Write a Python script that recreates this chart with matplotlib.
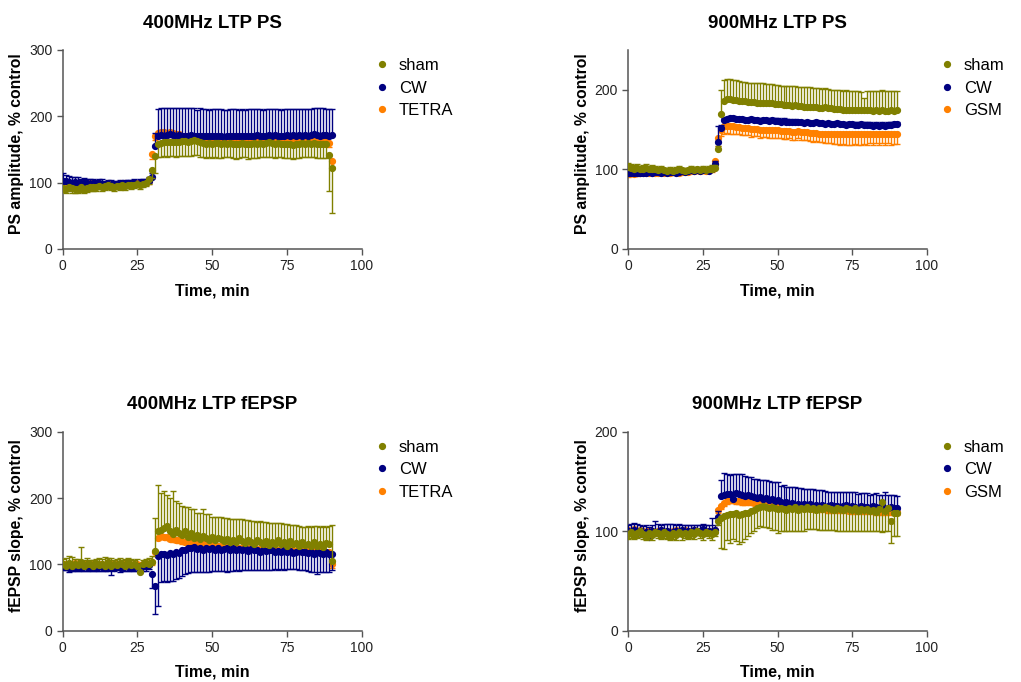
import matplotlib
matplotlib.use('Agg')
import matplotlib.pyplot as plt
from matplotlib.lines import Line2D
import numpy as np

plt.rcParams['font.family'] = ['Liberation Sans', 'DejaVu Sans']

# time axis, minutes
time = list(range(91))

SHAM = '#808000'
CW = '#000080'
EXP = '#ff8000'

# ---- 400MHz LTP PS ----
ps400_sham = [92, 91, 93, 92, 90, 91, 93, 91, 92, 93,
              94, 93, 95, 94, 95, 96, 95, 94, 95, 95,
              96, 95, 97, 96, 97, 98, 97, 98, 100, 105,
              119, 140, 158, 160, 161, 161, 162, 162, 161, 162,
              163, 163, 162, 163, 164, 163, 161, 160, 159, 160,
              159, 160, 160, 159, 160, 159, 160, 159, 158, 159,
              160, 159, 158, 159, 160, 159, 160, 159, 160, 161,
              160, 159, 160, 159, 158, 159, 158, 157, 158, 159,
              160, 159, 160, 159, 160, 159, 158, 159, 158, 141,
              122]
ps400_sham_err = [6, 7, 6, 7, 6, 6, 7, 6, 6, 6,
                  6, 6, 5, 6, 6, 5, 6, 6, 5, 6,
                  5, 6, 5, 6, 5, 5, 6, 5, 5, 7,
                  12, 26, 20, 21, 21, 22, 22, 22, 22, 22,
                  23, 23, 22, 23, 23, 22, 22, 22, 22, 22,
                  22, 22, 23, 22, 22, 21, 22, 22, 22, 22,
                  22, 21, 22, 22, 23, 22, 22, 21, 22, 22,
                  22, 22, 22, 21, 21, 22, 21, 21, 21, 22,
                  22, 21, 22, 21, 22, 22, 21, 22, 21, 53,
                  67]
ps400_cw = [103, 102, 101, 100, 101, 100, 99, 100, 99, 98,
            99, 98, 99, 98, 97, 98, 97, 96, 97, 98,
            97, 98, 99, 98, 99, 98, 99, 100, 101, 102,
            108, 155, 170, 172, 171, 172, 173, 172, 171, 172,
            171, 170, 171, 172, 171, 170, 171, 170, 171, 170,
            171, 170, 171, 170, 169, 170, 171, 170, 171, 170,
            171, 170, 171, 170, 171, 172, 171, 170, 171, 172,
            171, 172, 171, 170, 171, 172, 171, 172, 171, 172,
            171, 172, 171, 172, 173, 172, 171, 172, 172, 171,
            172]
ps400_cw_err = [11, 10, 9, 8, 8, 8, 7, 7, 7, 7,
                7, 6, 6, 7, 6, 6, 7, 6, 6, 6,
                6, 6, 5, 6, 6, 5, 6, 5, 5, 6,
                6, 20, 41, 41, 41, 41, 40, 40, 41, 40,
                41, 42, 41, 40, 41, 40, 41, 41, 40, 40,
                40, 41, 40, 41, 41, 40, 40, 41, 40, 40,
                40, 40, 40, 41, 40, 39, 40, 40, 40, 39,
                40, 39, 40, 40, 40, 39, 40, 39, 40, 39,
                40, 39, 40, 39, 40, 41, 42, 40, 39, 40,
                39]
ps400_tetra = [99, 100, 98, 99, 100, 99, 98, 99, 100, 99,
               98, 99, 98, 97, 98, 99, 98, 97, 98, 99,
               98, 99, 98, 99, 100, 99, 98, 100, 101, 103,
               143, 171, 175, 176, 176, 175, 176, 175, 174, 173,
               171, 170, 170, 169, 169, 168, 168, 167, 168, 167,
               167, 166, 167, 166, 166, 165, 166, 165, 166, 165,
               165, 166, 165, 164, 165, 166, 165, 164, 165, 166,
               165, 164, 165, 166, 165, 164, 163, 164, 165, 164,
               165, 164, 165, 164, 163, 164, 165, 164, 163, 160,
               132]
ps400_tetra_err = [4, 4, 5, 4, 4, 5, 4, 4, 5, 4,
                   4, 5, 4, 4, 5, 4, 4, 4, 5, 4,
                   4, 4, 5, 4, 4, 4, 5, 4, 4, 5,
                   8, 6, 6, 6, 6, 6, 6, 6, 6, 6,
                   5, 6, 5, 6, 5, 6, 5, 6, 5, 6,
                   5, 6, 5, 6, 5, 6, 5, 6, 5, 6,
                   5, 6, 5, 6, 5, 6, 5, 6, 5, 6,
                   5, 6, 5, 6, 5, 6, 5, 6, 5, 6,
                   5, 6, 5, 6, 5, 6, 5, 6, 5, 6,
                   8]

# ---- 900MHz LTP PS ----
ps900_sham = [103, 102, 101, 102, 100, 101, 102, 100, 101, 100,
              99, 100, 99, 98, 99, 98, 99, 100, 99, 98,
              99, 100, 99, 100, 99, 100, 99, 100, 101, 102,
              126, 170, 186, 188, 188, 187, 187, 186, 186, 186,
              185, 185, 185, 184, 184, 184, 183, 184, 183, 182,
              182, 182, 181, 181, 181, 180, 181, 180, 180, 179,
              179, 178, 178, 178, 177, 177, 178, 177, 177, 176,
              176, 176, 175, 175, 175, 174, 175, 174, 174, 175,
              174, 174, 173, 174, 173, 174, 173, 173, 174, 173,
              174]
ps900_sham_err = [5, 5, 4, 5, 4, 4, 5, 4, 4, 4,
                  4, 4, 3, 4, 4, 3, 4, 4, 3, 4,
                  3, 4, 4, 3, 4, 4, 3, 4, 4, 3,
                  4, 30, 26, 26, 25, 25, 25, 25, 24, 24,
                  24, 24, 24, 24, 24, 24, 24, 23, 24, 24,
                  24, 23, 24, 24, 24, 25, 24, 24, 24, 24,
                  24, 25, 24, 24, 25, 24, 24, 24, 23, 24,
                  24, 24, 24, 25, 24, 24, 24, 25, 23, 15,
                  24, 25, 25, 24, 25, 26, 25, 26, 25, 25,
                  25]
ps900_cw = [96, 95, 96, 95, 96, 95, 96, 97, 96, 97,
            97, 96, 97, 96, 97, 97, 96, 97, 98, 97,
            98, 99, 98, 99, 98, 99, 99, 98, 100, 107,
            135, 152, 162, 163, 164, 164, 163, 163, 163, 162,
            162, 163, 162, 162, 161, 162, 162, 161, 162, 161,
            161, 160, 161, 160, 160, 159, 160, 159, 159, 158,
            159, 158, 158, 159, 158, 158, 157, 158, 157, 157,
            158, 157, 157, 156, 157, 157, 156, 156, 157, 156,
            156, 156, 155, 156, 155, 156, 155, 156, 156, 157,
            157]
ps900_cw_err = [2, 3, 2, 3, 2, 2, 3, 2, 3, 2,
                2, 3, 2, 2, 3, 2, 2, 3, 2, 2,
                3, 2, 2, 3, 2, 2, 3, 2, 2, 3,
                20, 4, 3, 3, 3, 3, 3, 3, 3, 3,
                3, 3, 3, 3, 3, 3, 3, 3, 3, 3,
                3, 3, 3, 3, 3, 3, 3, 3, 3, 3,
                3, 3, 3, 3, 3, 3, 3, 3, 3, 3,
                3, 3, 3, 3, 3, 3, 3, 3, 3, 3,
                3, 3, 3, 3, 3, 3, 3, 3, 3, 3,
                3]
ps900_gsm = [94, 95, 94, 95, 96, 95, 96, 96, 95, 96,
             96, 97, 96, 97, 96, 97, 97, 96, 97, 98,
             97, 98, 98, 99, 98, 99, 98, 99, 100, 110,
             140, 150, 154, 155, 154, 154, 153, 153, 152, 152,
             152, 151, 151, 151, 150, 150, 150, 149, 149, 149,
             149, 148, 148, 148, 148, 147, 147, 148, 147, 147,
             147, 146, 146, 146, 145, 145, 145, 145, 145, 144,
             144, 144, 144, 144, 144, 144, 144, 144, 144, 144,
             144, 145, 144, 145, 144, 145, 144, 145, 144, 145,
             145]
ps900_gsm_err = [3, 3, 2, 3, 3, 2, 3, 3, 2, 3,
                 2, 3, 3, 2, 3, 3, 2, 3, 3, 2,
                 3, 2, 3, 3, 2, 3, 3, 2, 3, 3,
                 10, 8, 9, 9, 9, 9, 9, 9, 9, 9,
                 9, 10, 9, 9, 10, 9, 9, 10, 9, 9,
                 10, 9, 10, 10, 9, 10, 10, 9, 10, 10,
                 10, 10, 11, 10, 11, 11, 12, 12, 12, 12,
                 12, 13, 12, 13, 13, 13, 12, 13, 13, 12,
                 13, 12, 13, 12, 13, 12, 13, 12, 13, 13,
                 13]

# ---- 400MHz LTP fEPSP ----
fe400_sham = [100, 98, 102, 97, 101, 99, 103, 98, 100, 101,
              97, 102, 99, 100, 98, 103, 97, 101, 99, 102,
              100, 98, 103, 99, 101, 97, 89, 100, 102, 101,
              104, 120, 150, 152, 155, 158, 150, 146, 152, 148,
              145, 150, 142, 147, 140, 145, 138, 143, 140, 137,
              142, 136, 140, 138, 135, 139, 134, 137, 133, 140,
              135, 132, 137, 134, 130, 136, 133, 131, 135, 129,
              134, 131, 137, 130, 133, 128, 135, 130, 132, 128,
              133, 129, 131, 127, 134, 128, 130, 126, 132, 130,
              105]
fe400_sham_err = [8, 12, 10, 14, 7, 9, 23, 8, 10, 6,
                  9, 6, 11, 8, 13, 7, 12, 5, 9, 8,
                  7, 10, 6, 9, 5, 11, 8, 7, 6, 9,
                  8, 50, 70, 55, 55, 47, 50, 64, 43, 45,
                  43, 37, 45, 37, 44, 33, 40, 40, 36, 39,
                  30, 36, 32, 34, 35, 31, 35, 32, 35, 28,
                  33, 35, 30, 32, 35, 28, 32, 33, 29, 34,
                  29, 31, 26, 32, 28, 33, 25, 29, 27, 30,
                  24, 28, 27, 30, 24, 30, 27, 32, 25, 28,
                  55]
fe400_cw = [97, 96, 95, 96, 94, 96, 95, 97, 96, 95,
            96, 95, 97, 96, 95, 94, 96, 95, 97, 96,
            95, 97, 96, 95, 96, 97, 96, 98, 97, 99,
            85, 68, 113, 115, 116, 114, 117, 116, 118, 117,
            121, 122, 124, 125, 126, 123, 125, 122, 124, 123,
            125, 122, 124, 121, 123, 125, 122, 124, 121, 123,
            122, 124, 120, 123, 121, 122, 119, 122, 120, 121,
            122, 119, 120, 118, 121, 119, 120, 117, 119, 120,
            118, 119, 117, 118, 116, 118, 117, 116, 118, 115,
            115]
fe400_cw_err = [6, 5, 7, 6, 4, 6, 5, 7, 6, 5,
                6, 5, 7, 6, 5, 4, 12, 5, 6, 7,
                5, 7, 6, 5, 6, 7, 6, 8, 7, 6,
                20, 43, 75, 42, 41, 40, 42, 41, 40, 38,
                38, 36, 37, 37, 38, 34, 36, 33, 35, 34,
                35, 32, 34, 31, 33, 36, 32, 34, 30, 33,
                30, 32, 28, 31, 29, 30, 27, 30, 28, 29,
                30, 26, 28, 25, 29, 26, 27, 24, 26, 28,
                26, 28, 27, 29, 28, 32, 29, 28, 30, 27,
                23]
fe400_tetra = [99, 101, 100, 98, 102, 100, 99, 101, 100, 98,
               100, 99, 101, 100, 98, 101, 100, 99, 101, 100,
               99, 101, 100, 98, 100, 101, 99, 100, 102, 101,
               103, 118, 140, 143, 142, 141, 139, 138, 137, 136,
               135, 134, 134, 133, 132, 132, 131, 131, 130, 130,
               129, 129, 128, 128, 127, 127, 126, 126, 126, 125,
               125, 125, 124, 124, 124, 123, 123, 123, 123, 122,
               122, 122, 122, 121, 121, 121, 121, 121, 120, 120,
               120, 120, 120, 120, 120, 119, 119, 119, 119, 119,
               100]
fe400_tetra_err = [3, 4, 3, 4, 3, 4, 3, 4, 3, 4,
                   3, 4, 3, 4, 3, 4, 3, 4, 3, 4,
                   3, 4, 3, 4, 3, 4, 3, 4, 3, 4,
                   4, 6, 4, 4, 4, 4, 4, 4, 4, 4,
                   4, 3, 4, 3, 4, 3, 4, 3, 4, 3,
                   4, 3, 4, 3, 4, 3, 4, 3, 4, 3,
                   4, 3, 4, 3, 4, 3, 4, 3, 4, 3,
                   4, 3, 4, 3, 4, 3, 4, 3, 4, 3,
                   4, 3, 4, 3, 4, 3, 4, 3, 4, 3,
                   5]

# ---- 900MHz LTP fEPSP ----
fe900_sham = [97, 99, 96, 98, 100, 97, 95, 98, 96, 99,
              98, 96, 99, 97, 95, 98, 96, 99, 97, 98,
              96, 99, 97, 100, 98, 97, 99, 98, 97, 99,
              110, 113, 115, 116, 117, 117, 118, 116, 117, 118,
              118, 120, 121, 123, 124, 125, 124, 123, 124, 123,
              122, 123, 122, 121, 123, 122, 124, 121, 123, 122,
              124, 122, 123, 121, 123, 122, 124, 123, 122, 121,
              123, 122, 121, 123, 122, 121, 123, 120, 122, 121,
              122, 120, 121, 119, 122, 129, 120, 123, 110, 118,
              118]
fe900_sham_err = [5, 6, 4, 5, 6, 5, 4, 6, 5, 4,
                  5, 4, 6, 5, 4, 6, 5, 4, 6, 5,
                  4, 6, 5, 4, 5, 6, 4, 5, 6, 4,
                  4, 30, 33, 25, 29, 25, 28, 29, 28, 26,
                  23, 22, 21, 20, 19, 21, 20, 20, 23, 22,
                  24, 23, 22, 21, 23, 22, 24, 21, 23, 22,
                  22, 20, 21, 19, 22, 21, 23, 22, 21, 20,
                  23, 22, 21, 23, 22, 21, 23, 20, 22, 21,
                  22, 20, 21, 19, 22, 30, 20, 23, 22, 23,
                  23]
fe900_cw = [100, 99, 101, 98, 100, 97, 99, 94, 100, 98,
            99, 101, 98, 100, 97, 99, 100, 98, 101, 99,
            100, 98, 101, 99, 100, 102, 99, 100, 99, 101,
            114, 135, 136, 137, 137, 132, 138, 137, 136, 135,
            136, 135, 134, 133, 134, 132, 133, 131, 132, 130,
            131, 129, 128, 129, 127, 128, 126, 127, 126, 127,
            126, 127, 125, 126, 125, 126, 124, 125, 126, 125,
            125, 124, 125, 126, 124, 125, 124, 123, 125, 124,
            124, 123, 125, 124, 123, 124, 122, 123, 124, 123,
            123]
fe900_cw_err = [6, 8, 7, 9, 6, 8, 7, 10, 6, 12,
                8, 5, 9, 7, 10, 8, 6, 9, 5, 7,
                6, 8, 5, 7, 6, 5, 7, 6, 14, 5,
                6, 16, 22, 20, 19, 25, 19, 20, 21, 20,
                18, 19, 18, 19, 17, 19, 18, 19, 17, 19,
                18, 16, 18, 15, 17, 16, 18, 16, 17, 15,
                16, 15, 17, 15, 16, 15, 16, 14, 13, 14,
                14, 15, 14, 13, 15, 14, 15, 14, 13, 14,
                14, 13, 12, 14, 13, 12, 17, 13, 12, 13,
                12]
fe900_gsm = [101, 100, 102, 99, 101, 100, 98, 101, 100, 99,
             100, 101, 99, 100, 98, 100, 101, 99, 100, 101,
             99, 100, 101, 100, 99, 101, 100, 99, 100, 101,
             121, 125, 128, 130, 131, 131, 130, 130, 129, 129,
             129, 129, 128, 128, 128, 127, 127, 126, 126, 126,
             125, 125, 125, 124, 124, 124, 124, 123, 123, 123,
             123, 123, 122, 122, 122, 122, 122, 121, 121, 121,
             121, 121, 121, 121, 120, 120, 120, 120, 120, 120,
             120, 120, 120, 119, 119, 119, 119, 119, 119, 119,
             119]
fe900_gsm_err = [2, 3, 2, 3, 2, 3, 2, 3, 2, 3,
                 2, 3, 2, 3, 2, 3, 2, 3, 2, 3,
                 2, 3, 2, 3, 2, 3, 2, 3, 2, 3,
                 3, 3, 3, 3, 3, 3, 3, 3, 3, 3,
                 2, 3, 2, 3, 2, 3, 2, 3, 2, 3,
                 2, 3, 2, 3, 2, 3, 2, 3, 2, 3,
                 2, 3, 2, 3, 2, 3, 2, 3, 2, 3,
                 2, 3, 2, 3, 2, 3, 2, 3, 2, 3,
                 2, 3, 2, 3, 2, 3, 2, 3, 2, 3,
                 3]


def draw_series(ax, y, err, color, direction, z):
    y = np.asarray(y, dtype=float)
    err = np.asarray(err, dtype=float)
    zeros = np.zeros_like(err)
    if direction == 'up':
        yerr = [zeros, err]
    else:
        yerr = [err, zeros]
    ax.errorbar(time[:len(y)], y, yerr=yerr, fmt='o', color=color, ms=4.2,
                mec=color, ecolor=color, elinewidth=1.0, capsize=2.4,
                capthick=1.0, zorder=z)


def style_axes(ax, title, ylabel, ymax, yticks, labels):
    ax.set_xlim(0, 100)
    ax.set_ylim(0, ymax)
    ax.set_xticks([0, 25, 50, 75, 100])
    ax.set_yticks(yticks)
    for s in ['top', 'right']:
        ax.spines[s].set_visible(False)
    for s in ['left', 'bottom']:
        ax.spines[s].set_color('#555555')
        ax.spines[s].set_linewidth(1.1)
    ax.tick_params(direction='out', length=4, width=1, color='#555555',
                   labelsize=10, labelcolor='#222222')
    ax.set_title(title, fontsize=13.5, fontweight='bold', pad=16)
    ax.set_xlabel('Time, min', fontsize=11.5, fontweight='bold', labelpad=7)
    ax.set_ylabel(ylabel, fontsize=11.3, fontweight='bold')
    ax.yaxis.set_label_coords(-0.128, 0.53)
    handles = [Line2D([], [], marker='o', ls='', ms=4.2, color=c)
               for c in [SHAM, CW, EXP]]
    ax.legend(handles, labels, loc='upper left', bbox_to_anchor=(0.99, 1.035),
              frameon=False, fontsize=12, handletextpad=0.5,
              labelspacing=0.45, handlelength=1.0)


fig = plt.figure(figsize=(10.21, 6.82), dpi=100)
ax1 = fig.add_axes([0.0614, 0.6349, 0.2929, 0.2918])
ax2 = fig.add_axes([0.6154, 0.6349, 0.2923, 0.2918])
ax3 = fig.add_axes([0.0614, 0.0752, 0.2929, 0.2918])
ax4 = fig.add_axes([0.6154, 0.0752, 0.2923, 0.2918])

# 400MHz PS
draw_series(ax1, ps400_tetra, ps400_tetra_err, EXP, 'down', 2)
draw_series(ax1, ps400_cw, ps400_cw_err, CW, 'up', 3)
draw_series(ax1, ps400_sham, ps400_sham_err, SHAM, 'down', 4)
style_axes(ax1, '400MHz LTP PS', 'PS amplitude, % control', 300,
           [0, 100, 200, 300], ['sham', 'CW', 'TETRA'])

# 900MHz PS
draw_series(ax2, ps900_gsm, ps900_gsm_err, EXP, 'down', 2)
draw_series(ax2, ps900_cw, ps900_cw_err, CW, 'up', 3)
draw_series(ax2, ps900_sham, ps900_sham_err, SHAM, 'up', 4)
style_axes(ax2, '900MHz LTP PS', 'PS amplitude, % control', 250,
           [0, 100, 200], ['sham', 'CW', 'GSM'])

# 400MHz fEPSP
draw_series(ax3, fe400_tetra, fe400_tetra_err, EXP, 'down', 2)
draw_series(ax3, fe400_cw, fe400_cw_err, CW, 'down', 3)
draw_series(ax3, fe400_sham, fe400_sham_err, SHAM, 'up', 4)
style_axes(ax3, '400MHz LTP fEPSP', 'fEPSP slope, % control', 300,
           [0, 100, 200, 300], ['sham', 'CW', 'TETRA'])

# 900MHz fEPSP
draw_series(ax4, fe900_gsm, fe900_gsm_err, EXP, 'down', 2)
draw_series(ax4, fe900_cw, fe900_cw_err, CW, 'up', 3)
draw_series(ax4, fe900_sham, fe900_sham_err, SHAM, 'down', 4)
style_axes(ax4, '900MHz LTP fEPSP', 'fEPSP slope, % control', 200,
           [0, 100, 200], ['sham', 'CW', 'GSM'])

fig.savefig('out.png', dpi=100)
